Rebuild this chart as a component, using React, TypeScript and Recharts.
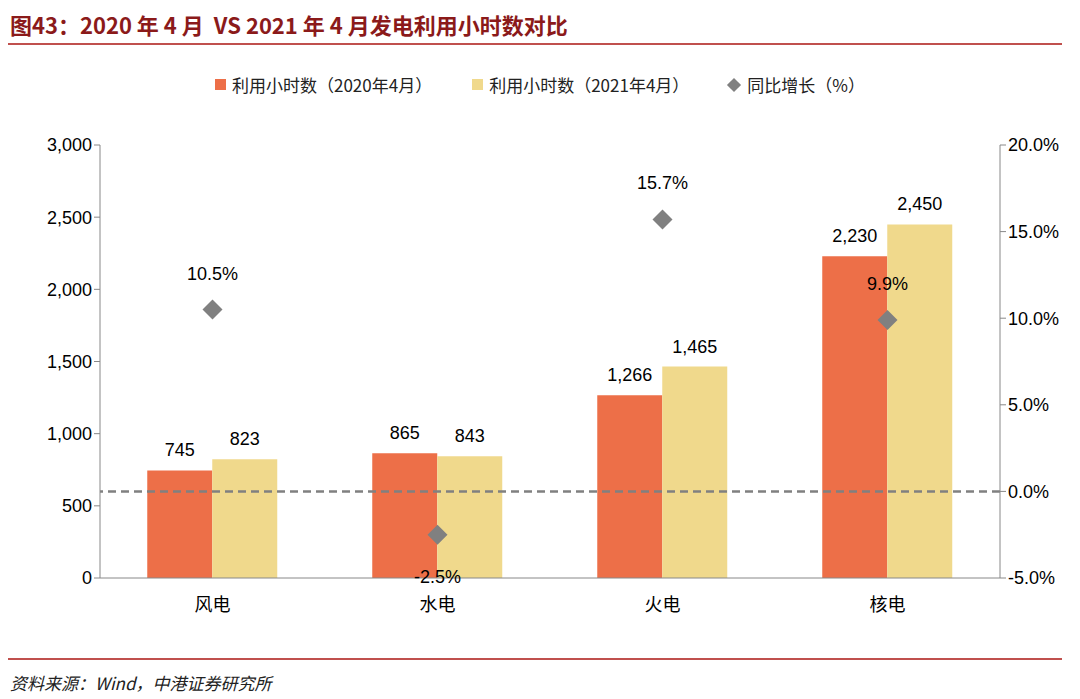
import React from "react";
import {
  ComposedChart,
  Bar,
  Scatter,
  XAxis,
  YAxis,
  ReferenceLine,
  LabelList,
} from "recharts";

const categories = ["风电", "水电", "火电", "核电"];
const hours2020 = [745, 865, 1266, 2230];
const hours2021 = [823, 843, 1465, 2450];
const yoyGrowth = [10.5, -2.5, 15.7, 9.9];
const leftTicks = [0, 500, 1000, 1500, 2000, 2500, 3000];
const rightTicks = [-5, 0, 5, 10, 15, 20];

const data = categories.map((c, i) => ({
  name: c,
  a: hours2020[i],
  b: hours2021[i],
  g: yoyGrowth[i],
}));

const font = "Arial, 'Liberation Sans', 'Noto Sans CJK SC', sans-serif";
const fmt = (v: number) => v.toLocaleString("en-US");

const Diamond = (p: any) => {
  const { cx, cy } = p;
  const r = 10;
  return <path d={`M${cx},${cy - r}L${cx + r},${cy}L${cx},${cy + r}L${cx - r},${cy}Z`} fill="#808080" />;
};

const GrowthLabel = (p: any) => {
  const { x, y, width, height, value } = p;
  const cx = x + (width || 0) / 2;
  const cy = y + (height || 0) / 2;
  const below = value < 0;
  return (
    <text x={cx} y={below ? cy + 48 : cy - 30} textAnchor="middle" fontSize={18} fill="#000" fontFamily={font}>
      {value.toFixed(1)}%
    </text>
  );
};

export default function App() {
  return (
    <div style={{ position: "absolute", left: 0, top: 0, width: 1080, height: 699, background: "#fff", fontFamily: font }}>
      <div style={{ position: "absolute", left: 10, top: 8, fontSize: 22, fontWeight: "bold", color: "#8B1A1A", fontFamily: "'Noto Sans CJK SC', sans-serif" }}>
        图43：2020 年 4 月&nbsp; VS 2021 年 4 月发电利用小时数对比
      </div>
      <div style={{ position: "absolute", left: 8, right: 18, top: 43, height: 2, background: "#C0504D" }} />
      <div style={{ position: "absolute", top: 72, left: 0, width: 1080, display: "flex", justifyContent: "center", gap: 40, fontSize: 17, fontFamily: "'Noto Sans CJK SC', sans-serif", color: "#222" }}>
        <span style={{ display: "flex", alignItems: "center" }}>
          <span style={{ width: 11, height: 11, background: "#ED6F48", marginRight: 6 }} />利用小时数（2020年4月）
        </span>
        <span style={{ display: "flex", alignItems: "center" }}>
          <span style={{ width: 11, height: 11, background: "#F0D98C", marginRight: 6 }} />利用小时数（2021年4月）
        </span>
        <span style={{ display: "flex", alignItems: "center" }}>
          <span style={{ width: 10, height: 10, background: "#808080", transform: "rotate(45deg)", marginRight: 8 }} />同比增长（%）
        </span>
      </div>
      <div style={{ position: "absolute", left: 0, top: 0 }}>
        <ComposedChart
          width={1080}
          height={699}
          data={data}
          margin={{ top: 145, right: 10, left: 40, bottom: 81 }}
          barGap={0}
          barCategoryGap="21%"
        >
          <XAxis dataKey="name" height={40} tickLine={false} axisLine={{ stroke: "#888" }}
            tick={{ fontSize: 18, fill: "#000", fontFamily: "'Noto Sans CJK SC', sans-serif", dy: 12 }} />
          <YAxis yAxisId="left" width={60} domain={[0, 3000]} ticks={leftTicks} tickFormatter={fmt}
            axisLine={{ stroke: "#888" }} tickLine={{ stroke: "#888" }} tickSize={6}
            tick={{ fontSize: 18, fill: "#000", fontFamily: font }} />
          <YAxis yAxisId="right" orientation="right" width={70} domain={[-5, 20]} ticks={rightTicks}
            tickFormatter={(v: number) => v.toFixed(1) + "%"}
            axisLine={{ stroke: "#888" }} tickLine={{ stroke: "#888" }} tickSize={6}
            tick={{ fontSize: 18, fill: "#000", fontFamily: font }} />
          <Bar yAxisId="left" dataKey="a" fill="#ED6F48" isAnimationActive={false}>
            <LabelList dataKey="a" position="top" offset={14} formatter={fmt} style={{ fontSize: 18, fill: "#000", fontFamily: font }} />
          </Bar>
          <Bar yAxisId="left" dataKey="b" fill="#F0D98C" isAnimationActive={false}>
            <LabelList dataKey="b" position="top" offset={14} formatter={fmt} style={{ fontSize: 18, fill: "#000", fontFamily: font }} />
          </Bar>
          <ReferenceLine yAxisId="right" y={0} stroke="#808080" strokeWidth={2.5} strokeDasharray="8 5" />
          <Scatter yAxisId="right" dataKey="g" shape={<Diamond />} isAnimationActive={false}>
            <LabelList dataKey="g" content={<GrowthLabel />} />
          </Scatter>
        </ComposedChart>
      </div>
      <div style={{ position: "absolute", left: 8, right: 18, top: 658, height: 2, background: "#C0504D" }} />
      <div style={{ position: "absolute", left: 10, top: 670, fontSize: 17, fontStyle: "italic", color: "#222", fontFamily: "'Noto Sans CJK SC', sans-serif" }}>
        资料来源：Wind，中港证券研究所
      </div>
    </div>
  );
}
